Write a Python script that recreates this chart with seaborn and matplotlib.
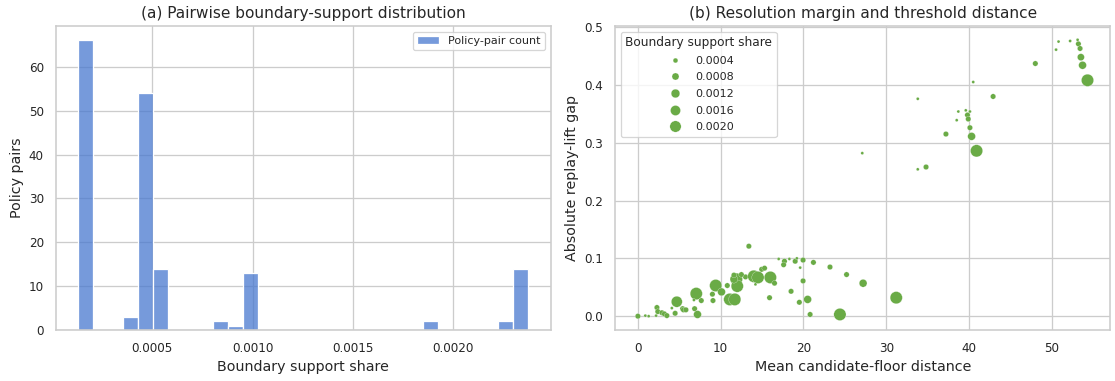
import matplotlib
matplotlib.use("Agg")
import matplotlib.pyplot as plt
import seaborn as sns
import pandas as pd

# (a) histogram: representative share per occupied bin and pair counts
hist_share = [0.00017, 0.000394, 0.000469, 0.000543, 0.000842, 0.000917,
              0.000991, 0.001887, 0.00226, 0.002335]
hist_count = [66, 3, 54, 14, 2, 1, 13, 2, 2, 14]
share_lo, share_hi = 0.000133, 0.002372

# (b) scatter: distance, gap, boundary support share
T, S, M, L, XL = 0.00017, 0.00048, 0.00098, 0.0019, 0.00235

distance = [50.8, 52.2, 53.1, 53.2, 53.4, 53.5, 53.7, 54.3, 50.5, 48.0,
            40.5, 42.9, 33.8, 38.7, 39.6, 40.1, 39.8, 38.5, 39.9, 40.1,
            40.3, 37.2, 40.9, 27.1, 33.8, 34.8,
            0.0, 0.9, 1.3, 2.3, 2.4, 2.2, 2.9, 3.2, 3.5, 4.1,
            4.5, 4.7, 5.4, 5.5, 5.8, 6.85, 7.2, 7.05, 7.66, 6.77,
            9.07, 9.0, 9.4, 10.1, 10.8, 11.1, 11.7, 11.9, 12.0, 11.6,
            13.0, 12.5, 11.6, 14.0, 14.5, 16.0, 14.2, 16.5, 15.9, 14.95,
            15.3, 13.4, 17.0, 17.7, 17.6, 18.3, 19.0, 19.2, 19.95, 19.6,
            21.2, 23.2, 25.2, 27.2, 19.95, 18.5, 19.5, 20.5, 20.8, 24.4,
            31.2]
gap = [0.475, 0.476, 0.478, 0.471, 0.463, 0.448, 0.434, 0.408, 0.461, 0.437,
       0.405, 0.380, 0.376, 0.354, 0.356, 0.354, 0.348, 0.339, 0.341, 0.326,
       0.311, 0.315, 0.286, 0.282, 0.254, 0.258,
       0.0, 0.001, 0.0, 0.015, 0.008, 0.001, 0.006, 0.004, 0.001, 0.014,
       0.005, 0.025, 0.013, 0.011, 0.011, 0.013, 0.003, 0.039, 0.027, 0.028,
       0.027, 0.038, 0.053, 0.042, 0.053, 0.029, 0.029, 0.064, 0.052, 0.064,
       0.068, 0.072, 0.071, 0.069, 0.067, 0.067, 0.055, 0.057, 0.032, 0.081,
       0.083, 0.121, 0.099, 0.095, 0.089, 0.099, 0.095, 0.100, 0.097, 0.084,
       0.093, 0.085, 0.072, 0.057, 0.061, 0.043, 0.024, 0.029, 0.003, 0.003,
       0.032]
share = [T, T, T, S, S, 0.0008, M, XL, T, S,
         T, S, T, T, T, T, S, T, S, S,
         M, S, XL, T, T, S,
         S, T, T, S, S, T, S, S, S, T,
         S, L, S, S, S, S, M, XL, S, T,
         S, S, XL, M, S, XL, XL, XL, XL, M,
         S, S, S, XL, XL, XL, T, S, S, S,
         S, S, T, S, S, T, S, T, S, T,
         S, S, S, M, S, S, S, M, S, XL,
         XL]

sns.set_theme(style="whitegrid")
plt.rcParams.update({
    "axes.titlesize": 12,
    "axes.labelsize": 11.2,
    "xtick.labelsize": 9.4,
    "ytick.labelsize": 9.4,
    "legend.fontsize": 8.7,
    "legend.title_fontsize": 9.5,
})

fig, axes = plt.subplots(1, 2, figsize=(1115 / 92, 381 / 92), dpi=92)
fig.subplots_adjust(left=56 / 1115, right=1110 / 1115, top=1 - 26 / 381,
                    bottom=1 - 330 / 381, wspace=0.131)

ax = axes[0]
sns.histplot(x=hist_share, weights=hist_count, bins=30,
             binrange=(share_lo, share_hi), color="#4878d0",
             label="Policy-pair count", ax=ax)
ax.set_title("(a) Pairwise boundary-support distribution")
ax.set_xlabel("Boundary support share")
ax.set_ylabel("Policy pairs")
ax.legend(loc="upper right")

ax = axes[1]
df = pd.DataFrame({"distance": distance, "gap": gap, "share": share})
sns.scatterplot(data=df, x="distance", y="gap", size="share", sizes=(5.5, 92),
                color="#6aab46", legend="brief", ax=ax)
ax.set_title("(b) Resolution margin and threshold distance")
ax.set_xlabel("Mean candidate-floor distance")
ax.set_ylabel("Absolute replay-lift gap")
ax.legend(title="Boundary support share", loc="upper left", labelspacing=0.6)

fig.savefig("out.png", dpi=92)
